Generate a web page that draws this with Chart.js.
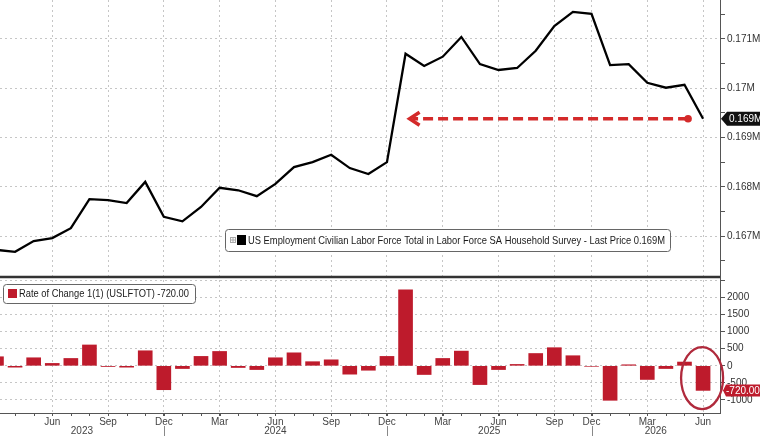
<!DOCTYPE html>
<html><head><meta charset="utf-8">
<script src="https://cdn.jsdelivr.net/npm/chart.js@4.4.0/dist/chart.umd.min.js"></script>
<style>html,body{margin:0;padding:0;background:#fff;}#wrap{width:760px;height:436px;}</style>
</head><body><div id="wrap"><canvas id="c" width="760" height="436"></canvas></div>
<script>
// ---- data ----
const categories = ['Mar 2023','Apr 2023','May 2023','Jun 2023','Jul 2023','Aug 2023','Sep 2023','Oct 2023','Nov 2023','Dec 2023',
  'Jan 2024','Feb 2024','Mar 2024','Apr 2024','May 2024','Jun 2024','Jul 2024','Aug 2024','Sep 2024','Oct 2024','Nov 2024','Dec 2024',
  'Jan 2025','Feb 2025','Mar 2025','Apr 2025','May 2025','Jun 2025','Jul 2025','Aug 2025','Sep 2025','Nov 2025','Dec 2025',
  'Jan 2026','Feb 2026','Mar 2026','Apr 2026','May 2026','Jun 2026'];
// labor force, thousands
const laborForce = [166720,166680,166900,166960,167160,167750,167730,167670,168100,167390,
  167300,167590,167980,167930,167810,168060,168400,168500,168650,168380,168260,168500,
  170700,170450,170640,171040,170490,170370,170410,170760,171260,171550,171510,
  170470,170490,170110,170010,170070,169380];
// month-over-month change, thousands
const rateOfChange = [265,-40,235,70,215,610,-20,-40,440,-700,
  -80,275,420,-50,-110,235,380,120,175,-245,-130,275,
  2225,-255,215,430,-550,-110,40,360,530,295,-15,
  -1010,30,-400,-80,110,-720];
const quarterMonths = ['Mar','Jun','Sep','Dec'];
const topTicks = [166500,167000,167500,168000,168500,169000,169500,170000,170500,171000,171500];
const bottomTicks = [-1000,-500,0,500,1000,1500,2000,2500];
const legendTop = 'US Employment Civilian Labor Force Total in Labor Force SA Household Survey - Last Price 0.169M';
const legendBottom = 'Rate of Change 1(1) (USLFTOT) -720.00';
const lastPriceLabel = '0.169M';
const lastChangeLabel = '-720.00';
const arrowTarget = 'Jan 2025';

const FONT = "'Liberation Sans', Arial, sans-serif";
const GRID = '#c6c6c6';
const AXIS = '#555';
const BAR = '#be1b2c';

Chart.defaults.font.family = FONT;

const lastIdx = categories.length - 1;
const quarterIdx = categories.map((c,i)=> quarterMonths.includes(c.split(' ')[0]) ? i : -1).filter(i=>i>=0);
const decIdx = categories.map((c,i)=> c.startsWith('Dec') ? i : -1).filter(i=>i>=0);

function fitText(ctx, text, x0, yMid, width, size, color){
  ctx.save();
  ctx.font = size + 'px ' + FONT;
  const w = ctx.measureText(text).width;
  ctx.translate(x0, yMid);
  ctx.scale(width / w, 1);
  ctx.fillStyle = color; ctx.textAlign = 'left'; ctx.textBaseline = 'middle';
  ctx.fillText(text, 0, 0);
  ctx.restore();
}
function noPad(s){ s.paddingTop = 0; s.paddingBottom = 0; s.paddingLeft = 0; s.paddingRight = 0; }

const overlay = {
  id:'overlay',
  afterDraw(chart){
    const ctx = chart.ctx, x = chart.scales.x, yT = chart.scales.yTop, yB = chart.scales.yBot;
    const ca = chart.chartArea;
    ctx.save();
    // panel separator
    ctx.strokeStyle = '#333'; ctx.lineWidth = 2.5;
    ctx.beginPath(); ctx.moveTo(ca.left, yT.bottom); ctx.lineTo(ca.right, yT.bottom); ctx.stroke();
    // monthly minor ticks on x axis
    ctx.strokeStyle = AXIS; ctx.lineWidth = 1;
    categories.forEach((c,i)=>{
      const px = x.getPixelForValue(i);
      if (px < ca.left || px > ca.right) return;
      ctx.beginPath(); ctx.moveTo(Math.round(px)+0.5, ca.bottom); ctx.lineTo(Math.round(px)+0.5, ca.bottom+3); ctx.stroke();
    });
    // year labels and separators
    const bounds = [ca.left].concat(decIdx.map(i=>x.getPixelForValue(i))).concat([ca.right]);
    ctx.fillStyle = '#444'; ctx.font = '10px ' + FONT; ctx.textAlign = 'center'; ctx.textBaseline = 'middle';
    for (let k=0;k<bounds.length-1;k++){
      const idx = k < decIdx.length ? decIdx[k] : lastIdx;
      const yr = categories[idx].split(' ')[1];
      ctx.fillText(yr, (bounds[k]+bounds[k+1])/2, 431);
    }
    ctx.strokeStyle = '#888';
    decIdx.forEach(i=>{ const px = Math.round(x.getPixelForValue(i))+0.5; ctx.beginPath(); ctx.moveTo(px, 426); ctx.lineTo(px, 436); ctx.stroke(); });

    // red dashed arrow at last value back to target month
    const yLast = yT.getPixelForValue(laborForce[lastIdx]);
    const xEnd = x.getPixelForValue(lastIdx) - 15;
    const xTip = x.getPixelForValue(categories.indexOf(arrowTarget)) + 3;
    ctx.strokeStyle = '#d42a2a'; ctx.fillStyle = '#d42a2a'; ctx.lineWidth = 3.5;
    ctx.setLineDash([10,5]);
    ctx.beginPath(); ctx.moveTo(xEnd, yLast); ctx.lineTo(xTip+4, yLast); ctx.stroke();
    ctx.setLineDash([]);
    ctx.lineWidth = 3.5; ctx.lineJoin = 'miter';
    ctx.beginPath(); ctx.moveTo(xTip+11, yLast-6.5); ctx.lineTo(xTip+1, yLast); ctx.lineTo(xTip+11, yLast+6.5); ctx.stroke();
    ctx.beginPath(); ctx.arc(xEnd, yLast, 3.8, 0, Math.PI*2); ctx.fill();

    // red circle around last bar
    const cx = x.getPixelForValue(lastIdx);
    const cy = yB.getPixelForValue(rateOfChange[lastIdx]/2);
    ctx.strokeStyle = '#b02a3c'; ctx.lineWidth = 2.3;
    ctx.beginPath(); ctx.ellipse(cx-1, cy, 21, 31, 0, 0, Math.PI*2); ctx.stroke();

    // last price tag (top)
    ctx.fillStyle = '#111';
    ctx.beginPath(); ctx.moveTo(ca.right+1, yLast); ctx.lineTo(ca.right+7, yLast-7); ctx.lineTo(760, yLast-7); ctx.lineTo(760, yLast+7); ctx.lineTo(ca.right+7, yLast+7); ctx.closePath(); ctx.fill();
    ctx.fillStyle = '#fff'; ctx.font = '10px ' + FONT; ctx.textAlign = 'left'; ctx.textBaseline = 'middle';
    ctx.fillText(lastPriceLabel, ca.right+9, yLast+0.5);

    // last change tag (bottom)
    const yc = yB.getPixelForValue(rateOfChange[lastIdx]);
    ctx.fillStyle = BAR;
    ctx.beginPath(); ctx.moveTo(ca.right+3, yc); ctx.lineTo(ca.right+6, yc-6); ctx.lineTo(760, yc-6); ctx.lineTo(760, yc+6); ctx.lineTo(ca.right+6, yc+6); ctx.closePath(); ctx.fill();
    ctx.fillStyle = '#fff'; ctx.fillText(lastChangeLabel, ca.right+6, yc+0.5);

    // legend top
    function roundRect(x0,y0,w,h,r){ ctx.beginPath(); ctx.moveTo(x0+r,y0); ctx.lineTo(x0+w-r,y0); ctx.quadraticCurveTo(x0+w,y0,x0+w,y0+r); ctx.lineTo(x0+w,y0+h-r); ctx.quadraticCurveTo(x0+w,y0+h,x0+w-r,y0+h); ctx.lineTo(x0+r,y0+h); ctx.quadraticCurveTo(x0,y0+h,x0,y0+h-r); ctx.lineTo(x0,y0+r); ctx.quadraticCurveTo(x0,y0,x0+r,y0); ctx.closePath(); }
    ctx.fillStyle = '#fff'; ctx.strokeStyle = '#666'; ctx.lineWidth = 1;
    roundRect(225.5, 229.5, 445, 22, 3); ctx.fill(); ctx.stroke();
    ctx.strokeStyle = '#aaa'; ctx.strokeRect(230.5, 237.5, 5, 5);
    ctx.beginPath(); ctx.moveTo(233, 238); ctx.lineTo(233, 242); ctx.moveTo(231, 240); ctx.lineTo(235, 240); ctx.stroke();
    ctx.fillStyle = '#000'; ctx.fillRect(237, 235, 9, 10);
    fitText(ctx, legendTop, 248, 241, 417, 11.5, '#1a1a1a');

    // legend bottom
    ctx.fillStyle = '#fff'; ctx.strokeStyle = '#666';
    roundRect(3.5, 284.5, 192, 19, 3); ctx.fill(); ctx.stroke();
    ctx.fillStyle = BAR; ctx.fillRect(8, 289, 9, 9);
    fitText(ctx, legendBottom, 19, 294, 170, 10.5, '#1a1a1a');
    ctx.restore();
  }
};

new Chart(document.getElementById('c'), {
  data: {
    datasets: [
      { type:'line', label:'Labor Force', xAxisID:'x', yAxisID:'yTop',
        data: laborForce.map((v,i)=>({x:i, y:v})),
        borderColor:'#000', borderWidth:2.3, pointRadius:0, tension:0 },
      { type:'bar', label:'Rate of Change', xAxisID:'x', yAxisID:'yBot',
        data: rateOfChange.map((v,i)=>({x:i, y:v})),
        backgroundColor: BAR, borderWidth:0, barThickness:14 }
    ]
  },
  options: {
    responsive:false, animation:false, devicePixelRatio:1,
    layout:{ padding:0 },
    plugins:{ legend:{display:false}, tooltip:{enabled:false} },
    scales:{
      x:{ type:'linear', position:'bottom', min:0.19, max:38.91, offset:false,
        afterBuildTicks: s => { s.ticks = quarterIdx.filter(i=> i>=s.min && i<=s.max).map(v=>({value:v})); },
        ticks:{ autoSkip:false, maxRotation:0, padding:0, font:{size:10}, color:'#444',
          callback: v => categories[v] ? categories[v].split(' ')[0] : '' },
        grid:{ offset:false, color:GRID, lineWidth:1, tickLength:3, tickColor:AXIS },
        border:{ display:true, color:AXIS, dash:[2,3] },
        afterFit: s => { s.height = 23; noPad(s); }
      },
      yTop:{ type:'linear', position:'right', stack:'panels', stackWeight:277, min:166170, max:171790,
        afterBuildTicks: s => { s.ticks = topTicks.map(v=>({value:v})); },
        ticks:{ autoSkip:false, padding:2, font:{size:10}, color:'#333',
          callback: v => v % 1000 === 0 ? (+(v/1e6).toFixed(3)) + 'M' : '' },
        grid:{ color: c => (c.tick && c.tick.value % 1000 === 0) ? GRID : 'rgba(0,0,0,0)', tickColor:AXIS, tickLength:5 },
        border:{ display:true, color:AXIS, dash:[2,3] },
        afterFit: s => { s.width = 40; noPad(s); }
      },
      yBot:{ type:'linear', position:'right', stack:'panels', stackWeight:136, min:-1382, max:2600,
        afterBuildTicks: s => { s.ticks = bottomTicks.map(v=>({value:v})); },
        ticks:{ autoSkip:false, padding:2, font:{size:10}, color:'#333',
          callback: v => v === 2500 ? '' : String(v) },
        grid:{ color:GRID, tickColor:AXIS, tickLength:5 },
        border:{ display:true, color:AXIS, dash:[2,3] },
        afterFit: s => { s.width = 40; noPad(s); }
      }
    }
  },
  plugins:[overlay]
});
</script>
</body></html>
